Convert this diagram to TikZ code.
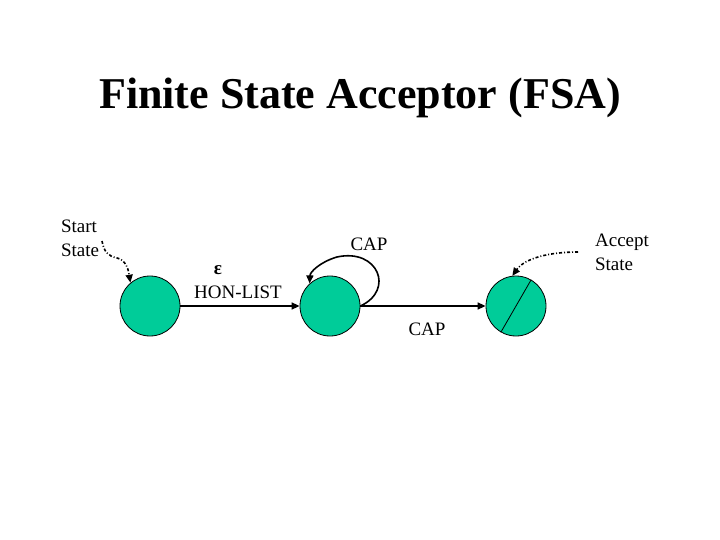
\documentclass[tikz,border=0pt]{standalone}
\usepackage{fontspec}
\setmainfont{Liberation Serif}
\usetikzlibrary{arrows.meta}
\definecolor{stategreen}{RGB}{0,204,153}
\begin{document}
\begin{tikzpicture}[x=1pt,y=-1pt,
  statenode/.style={circle,draw=black,line width=0.8pt,fill=stategreen,minimum size=60pt,inner sep=0pt},
  lbl/.style={font=\fontsize{19}{24}\selectfont,inner sep=0pt},
  edge/.style={line width=1.6pt,-{Triangle[length=8pt,width=7pt]}},
  pointer/.style={line width=1.6pt,dash pattern=on 3pt off 2pt on 1pt off 2pt,-{Triangle[length=8pt,width=7pt]}}]
\useasboundingbox (0,0) rectangle (720,540);
\node[font=\fontsize{44}{50}\selectfont\bfseries,inner sep=0pt] (title) at (360,98) {Finite State Acceptor (FSA)};
\node[statenode] (s1) at (150,306) {};
\node[statenode] (s2) at (330,306) {};
\node[statenode] (s3) at (516,306) {};
\draw[line width=0.8pt] (s3.60) -- (s3.240);
\node[lbl,align=left] (start) at (80,238) {Start\\State};
\node[lbl,align=left] (accept) at (622,252) {Accept\\State};
\node[lbl,font=\fontsize{19}{22}\selectfont\bfseries] (eps) at (218,270) {ε};
\node[lbl] (hon) at (238,292) {HON-LIST};
\node[lbl] (cap1) at (369,244) {CAP};
\node[lbl] (cap2) at (427,329) {CAP};
\draw[edge] (s1) -- (s2);
\draw[edge] (s2) -- (s3);
\draw[edge] (s2.east) .. controls (395,290) and (378,248) .. (337,257) .. controls (320,262) and (310,272) .. (s2.132);
\coordinate (sp) at (102,241);
\coordinate (ap) at (578,252);
\draw[pointer] (sp) .. controls (104,252) and (108,256) .. (117,258) .. controls (126,260) and (128,268) .. (s1.130);
\draw[pointer] (ap) .. controls (550,252) and (525,258) .. (s3.97);
\end{tikzpicture}
\end{document}
